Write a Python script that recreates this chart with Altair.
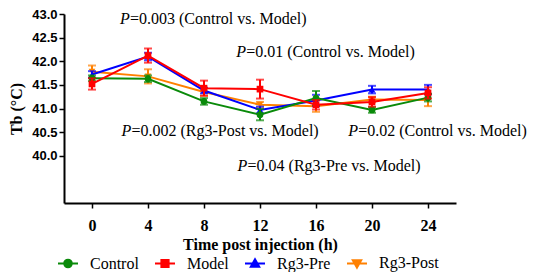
import altair as alt
import pandas as pd

hours = [0, 4, 8, 12, 16, 20, 24]
groups = ["Control", "Model", "Rg3-Pre", "Rg3-Post"]

control_mean = [41.64, 41.63, 41.15, 40.87, 41.22, 40.97, 41.23]
control_sem = [0.06, 0.07, 0.07, 0.12, 0.15, 0.06, 0.08]
model_mean = [41.52, 42.12, 41.43, 41.41, 41.08, 41.14, 41.33]
model_sem = [0.12, 0.15, 0.16, 0.20, 0.10, 0.10, 0.12]
pre_mean = [41.72, 42.10, 41.38, 40.97, 41.17, 41.40, 41.40]
pre_sem = [0.07, 0.08, 0.06, 0.07, 0.12, 0.08, 0.10]
post_mean = [41.78, 41.68, 41.35, 41.08, 41.05, 41.19, 41.18]
post_sem = [0.13, 0.15, 0.08, 0.06, 0.12, 0.06, 0.13]

y_ticks = [40.0, 40.5, 41.0, 41.5, 42.0, 42.5, 43.0]

ann_text = ["=0.003 (Control vs. Model)", "=0.01 (Control vs. Model)",
            "=0.002 (Rg3-Post vs. Model)", "=0.02 (Control vs. Model)",
            "=0.04 (Rg3-Pre vs. Model)"]
ann_x = [2.0, 10.3, 2.1, 18.3, 10.4]
ann_y = [42.89, 42.2, 40.52, 40.52, 39.78]

# styles
colors = ["#0a8a0a", "#ff0000", "#0000ff", "#ff8000"]
marker_shapes = ["circle", "square", "triangle-up", "triangle-down"]
legend_paths = [
    "M-1,0H1M-0.38,0A0.38,0.38,0,1,0,0.38,0A0.38,0.38,0,1,0,-0.38,0Z",
    "M-1,0H1M-0.36,-0.36H0.36V0.36H-0.36Z",
    "M-1,0H1M0,-0.42L0.42,0.32L-0.42,0.32Z",
    "M-1,0H1M0,0.42L0.42,-0.32L-0.42,-0.32Z",
]
draw_order = ["Rg3-Post", "Rg3-Pre", "Control", "Model"]

means = {"Control": control_mean, "Model": model_mean, "Rg3-Pre": pre_mean, "Rg3-Post": post_mean}
sems = {"Control": control_sem, "Model": model_sem, "Rg3-Pre": pre_sem, "Rg3-Post": post_sem}

rows = []
for g in groups:
    for h, m, s in zip(hours, means[g], sems[g]):
        rows.append({"group": g, "hour": h, "mean": m, "sem": s})
df = pd.DataFrame(rows)

ann_df = pd.DataFrame({"x": ann_x, "y": ann_y, "label": ann_text})

serif = "Liberation Serif"
sans = "Liberation Sans"

xscale = alt.Scale(domain=[-2, 26], nice=False, zero=False)
yscale = alt.Scale(domain=[39, 43], nice=False, zero=False)

x_axis = alt.Axis(values=hours, format="d", grid=False, labelFont=serif, labelFontWeight="bold",
                  labelFontSize=16, labelColor="black", labelPadding=9, tickSize=5, tickWidth=1.5,
                  tickColor="black", domainColor="black", domainWidth=2, labelFlush=False,
                  labelOverlap=False,
                  title="Time post injection (h)", titleFont=serif, titleFontSize=16,
                  titleFontWeight="bold", titleColor="black", titleY=41, titleBaseline="middle")
y_axis = alt.Axis(values=y_ticks, format=".1f", grid=False, labelFont=sans, labelFontWeight="bold",
                  labelFontSize=13, labelColor="black", labelPadding=2, tickSize=5, tickWidth=1.5,
                  tickColor="black", domainColor="black", domainWidth=2, labelFlush=False,
                  labelOverlap=False,
                  title="Tb (°C)", titleFont=serif, titleFontSize=16, titleFontWeight="bold",
                  titleColor="black", titleX=-48, titleY=94.5, titleBaseline="middle", titleAngle=270)


def X(field="hour"):
    return alt.X(f"{field}:Q", scale=xscale, axis=x_axis)


def Y(field="mean"):
    return alt.Y(f"{field}:Q", scale=yscale, axis=y_axis)


base = alt.Chart(df).transform_calculate(
    lo="datum.mean - datum.sem", hi="datum.mean + datum.sem")

layers = []
for g in draw_order:
    i = groups.index(g)
    col = colors[i]
    b = base.transform_filter(alt.datum.group == g)
    layers.append(b.mark_line(strokeWidth=2, color=col).encode(x=X(), y=Y()))
    layers.append(b.mark_rule(strokeWidth=2, color=col).encode(x=X(), y=Y("lo"), y2="hi:Q"))
    layers.append(b.mark_tick(orient="horizontal", size=8, thickness=2, color=col).encode(
        x=X(), y=Y("lo")))
    layers.append(b.mark_tick(orient="horizontal", size=8, thickness=2, color=col).encode(
        x=X(), y=Y("hi")))
    layers.append(b.mark_point(filled=True, size=45, opacity=1, shape=marker_shapes[i],
                               color=col).encode(x=X(), y=Y()))

leg = alt.Legend(orient="none", legendX=-7, legendY=238, direction="horizontal", title=None,
                 labelFont=serif, labelFontSize=16, labelColor="black", symbolSize=400,
                 symbolStrokeWidth=2, symbolOpacity=1, labelOffset=11, columnPadding=12,
                 padding=0)
# legend-only layer: its points sit outside the x domain and are clipped away
legend_layer = base.transform_filter(alt.datum.hour == 0).transform_calculate(
    off="datum.hour - 100").mark_point(filled=True, strokeWidth=2, opacity=1, clip=True).encode(
    x=X("off"), y=Y(),
    fill=alt.Fill("group:N", scale=alt.Scale(domain=groups, range=colors), legend=leg),
    stroke=alt.Stroke("group:N", scale=alt.Scale(domain=groups, range=colors), legend=leg),
    shape=alt.Shape("group:N", scale=alt.Scale(domain=groups, range=legend_paths), legend=leg),
)

ann = alt.Chart(ann_df)
p_text = ann.mark_text(text="P", font=serif, fontSize=16, fontStyle="italic", align="left",
                       baseline="middle", color="black").encode(x=X("x"), y=Y("y"))
rest_text = ann.mark_text(font=serif, fontSize=16, align="left", baseline="middle", dx=10,
                          color="black").encode(x=X("x"), y=Y("y"), text="label:N")

chart = alt.layer(*layers, legend_layer, p_text, rest_text).properties(
    width=392, height=189,
    autosize=alt.AutoSizeParams(type="none"),
    padding={"left": 56, "top": 6, "right": 72, "bottom": 69},
).configure_view(stroke=None)

chart.save("out.html", embed_options={"renderer": "svg", "actions": False})
